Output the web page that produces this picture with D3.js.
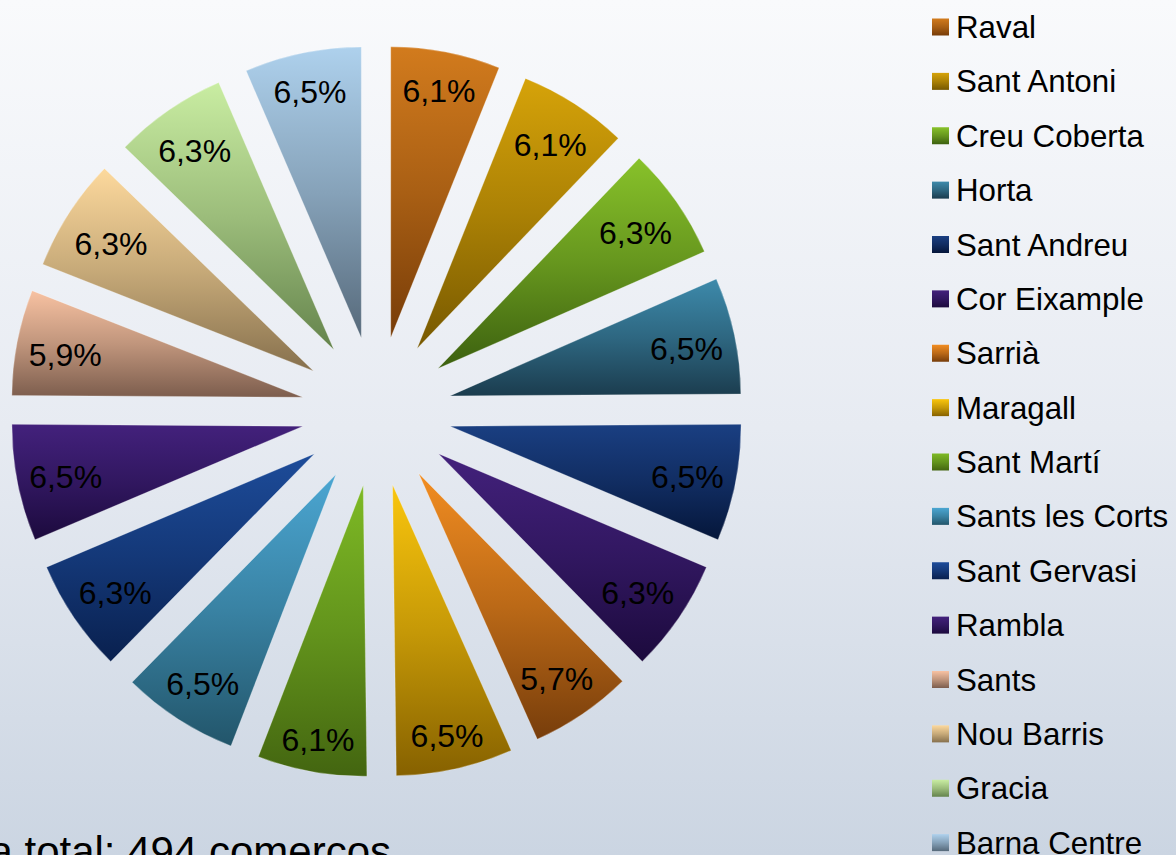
<!DOCTYPE html>
<html>
<head>
<meta charset="utf-8">
<script src="https://cdn.jsdelivr.net/npm/d3@7"></script>
<style>
  html, body { margin: 0; padding: 0; overflow: hidden; }
  svg { display: block; font-family: "Liberation Sans", Arial, sans-serif; }
</style>
</head>
<body>
<svg id="chart"></svg>
<script>
// barris i nombre de comerços de la mostra
let categories = ["Raval", "Sant Antoni", "Creu Coberta", "Horta", "Sant Andreu",
  "Cor Eixample", "Sarrià", "Maragall", "Sant Martí", "Sants les Corts",
  "Sant Gervasi", "Rambla", "Sants", "Nou Barris", "Gracia", "Barna Centre"];
let counts = [30, 30, 31, 32, 32, 31, 28, 32, 30, 32, 31, 32, 29, 31, 31, 32];
// colors del degradat: dalt (clar) i baix (fosc)
let topColors = ["#d27b1d", "#d6a309", "#88c22a", "#3d8aab", "#1a3f82", "#43217c",
  "#f28d21", "#fac60d", "#7eba25", "#4ba6d2", "#1d4c9a", "#43217c",
  "#f8c2a2", "#fdd99d", "#c9eda2", "#aed1ed"];
let bottomColors = ["#773c08", "#765800", "#3c600f", "#1b3c4e", "#05163a", "#1c0a3d",
  "#773d0b", "#866100", "#436510", "#22556a", "#09204e", "#1c0a3d",
  "#7c5d4d", "#86704d", "#64834c", "#56697a"];
let footText = "Mostra total: 494 comerços";

let width = 1176;
let height = 855;
let cx = 376.5;
let cy = 411.5;
let radius = 291;
let explode = 75;
// etiquetes: la caixa del text queda a prop de la vora exterior
let labelEdge = 276.5;
let boxHalfW = 32;
let boxHalfH = 16;
let inkShift = 3;

let total = d3.sum(counts);
let fmtPct = (v) => (v / total * 100).toFixed(1).replace(".", ",") + "%";

let svg = d3.select("#chart").attr("width", width).attr("height", height);
let defs = svg.append("defs");

// fons
let bg = defs.append("linearGradient").attr("id", "bg")
  .attr("x1", 0).attr("y1", 0).attr("x2", 0).attr("y2", 1);
bg.append("stop").attr("offset", "0%").attr("stop-color", "#f9fafc");
bg.append("stop").attr("offset", "50%").attr("stop-color", "#e7ebf2");
bg.append("stop").attr("offset", "100%").attr("stop-color", "#cbd5e2");
svg.append("rect").attr("width", width).attr("height", height).attr("fill", "url(#bg)");

// un degradat per a cada barri
categories.forEach((c, i) => {
  let g = defs.append("linearGradient").attr("id", "grad" + i)
    .attr("x1", 0).attr("y1", 0).attr("x2", 0).attr("y2", 1);
  g.append("stop").attr("offset", "0%").attr("stop-color", topColors[i]);
  g.append("stop").attr("offset", "50%").attr("stop-color", d3.interpolateRgb(topColors[i], bottomColors[i])(0.45));
  g.append("stop").attr("offset", "100%").attr("stop-color", bottomColors[i]);
});

let pie = d3.pie().sort(null).value((d) => d);
let arcs = pie(counts);
let arc = d3.arc().innerRadius(0).outerRadius(radius);

let midAngle = (d) => (d.startAngle + d.endAngle) / 2;
let offset = (d) => {
  let m = midAngle(d);
  return [Math.sin(m) * explode, -Math.cos(m) * explode];
};
let labelPos = (d) => {
  let m = midAngle(d);
  let s = Math.sin(m), c = Math.cos(m);
  let dist = labelEdge - (boxHalfW * Math.abs(s) + boxHalfH * Math.abs(c));
  return [s * dist, -c * dist + inkShift];
};

let slices = svg.append("g")
  .attr("transform", "translate(" + cx + "," + cy + ")")
  .selectAll("g")
  .data(arcs)
  .enter()
  .append("g")
  .attr("transform", (d) => "translate(" + offset(d).join(",") + ")");

slices.append("path")
  .attr("d", arc)
  .attr("fill", (d, i) => "url(#grad" + i + ")")
  .attr("stroke", "rgba(255,255,255,0.35)")
  .attr("stroke-width", 0.8);

slices.append("text")
  .attr("transform", (d) => "translate(" + labelPos(d).join(",") + ")")
  .attr("text-anchor", "middle")
  .attr("dy", "0.35em")
  .attr("font-size", 32)
  .attr("fill", "#000")
  .text((d) => fmtPct(d.data));

// llegenda
let legend = svg.append("g").attr("transform", "translate(932,27)");
let items = legend.selectAll("g")
  .data(categories)
  .enter()
  .append("g")
  .attr("transform", (d, i) => "translate(0," + i * 54.375 + ")");
items.append("rect")
  .attr("x", 0).attr("y", -8.5)
  .attr("width", 17).attr("height", 17)
  .attr("fill", (d, i) => "url(#grad" + i + ")");
items.append("text")
  .attr("x", 24).attr("y", 11)
  .attr("font-size", 31.3)
  .attr("fill", "#000")
  .text((d) => d);

// peu
svg.append("text")
  .attr("x", 391).attr("y", 866)
  .attr("text-anchor", "end")
  .attr("font-size", 42)
  .attr("fill", "#000")
  .text(footText);
</script>
</body>
</html>
